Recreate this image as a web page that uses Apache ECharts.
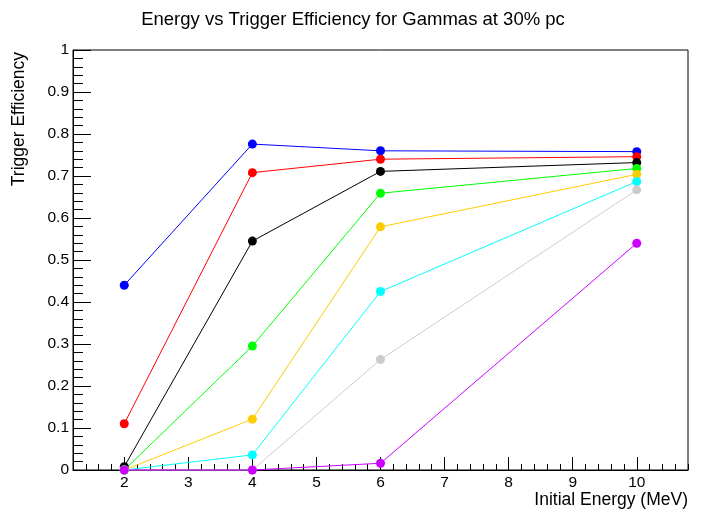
<!DOCTYPE html>
<html>
<head>
<meta charset="utf-8">
<script src="https://cdn.jsdelivr.net/npm/echarts@6/dist/echarts.min.js"></script>
<style>html,body{margin:0;padding:0;background:#fff}#c{width:706px;height:514px}</style>
</head>
<body>
<div id="c"></div>
<script>
const energies = [2, 4, 6, 10];
const blueVals    = [0.440, 0.776, 0.760, 0.758];
const redVals     = [0.110, 0.708, 0.740, 0.746];
const blackVals   = [0.008, 0.545, 0.711, 0.732];
const greenVals   = [0.000, 0.295, 0.659, 0.718];
const orangeVals  = [0.000, 0.121, 0.579, 0.704];
const cyanVals    = [0.000, 0.036, 0.425, 0.687];
const grayVals    = [0.000, 0.000, 0.263, 0.667];
const magentaVals = [0.000, 0.000, 0.016, 0.540];
const xMajorTicks = [2, 3, 4, 5, 6, 7, 8, 9, 10];

const seriesDefs = [
  ['blue', blueVals, '#0000ff'],
  ['red', redVals, '#ff0000'],
  ['black', blackVals, '#000000'],
  ['green', greenVals, '#00ff00'],
  ['orange', orangeVals, '#ffcc00'],
  ['cyan', cyanVals, '#00ffff'],
  ['gray', grayVals, '#cccccc'],
  ['magenta', magentaVals, '#cc00ff']
];

const xMinor = [];
for (let i = 6; i <= 54; i++) { if (i % 5 !== 0) xMinor.push(+(i * 0.2).toFixed(1)); }

const font = 'Liberation Sans, Arial, Helvetica, sans-serif';
const chart = echarts.init(document.getElementById('c'));
chart.setOption({
  animation: false,
  title: {
    text: 'Energy vs Trigger Efficiency for Gammas at 30% pc',
    left: 'center', top: 5,
    textStyle: { fontFamily: font, fontSize: 18.5, fontWeight: 'normal', color: '#000' }
  },
  grid: { left: 73, right: 18, top: 50, bottom: 44, show: true, borderColor: '#000', borderWidth: 1, containLabel: false },
  xAxis: [{
    type: 'value', min: 1.2, max: 10.8,
    name: 'Initial Energy (MeV)', nameLocation: 'end', nameGap: 0,
    nameTextStyle: { fontFamily: font, fontSize: 17.5, color: '#000', align: 'right', verticalAlign: 'top', padding: [21, 0, 0, 0] },
    axisLine: { show: true, lineStyle: { color: '#000', width: 1 } },
    axisTick: { show: true, inside: true, length: 13, customValues: xMajorTicks, lineStyle: { color: '#000' } },
    axisLabel: { show: true, customValues: xMajorTicks, fontFamily: font, fontSize: 15.5, color: '#000', margin: 5 },
    splitLine: { show: false }
  }, {
    type: 'value', min: 1.2, max: 10.8, position: 'bottom',
    axisLine: { show: false },
    axisTick: { show: true, inside: true, length: 6, customValues: xMinor, lineStyle: { color: '#000' } },
    axisLabel: { show: false },
    splitLine: { show: false }
  }],
  yAxis: {
    type: 'value', min: 0, max: 1, interval: 0.1,
    name: 'Trigger Efficiency', nameLocation: 'end', nameRotate: 90, nameGap: -2,
    nameTextStyle: { fontFamily: font, fontSize: 17.5, color: '#000', align: 'right', verticalAlign: 'bottom', padding: [0, 0, 45, 0] },
    axisLine: { show: true, lineStyle: { color: '#000', width: 1 } },
    axisTick: { show: true, inside: true, length: 18, lineStyle: { color: '#000' } },
    minorTick: { show: true, splitNumber: 5, length: 10, lineStyle: { color: '#000' } },
    axisLabel: { fontFamily: font, fontSize: 15.5, color: '#000', margin: 4 },
    splitLine: { show: false }
  },
  series: seriesDefs.map(([name, vals, color]) => ({
    name, type: 'line', xAxisIndex: 0,
    data: energies.map((e, i) => [e, vals[i]]),
    symbol: 'circle', symbolSize: 9, clip: false,
    lineStyle: { color, width: 1 },
    itemStyle: { color }
  }))
});
</script>
</body>
</html>
